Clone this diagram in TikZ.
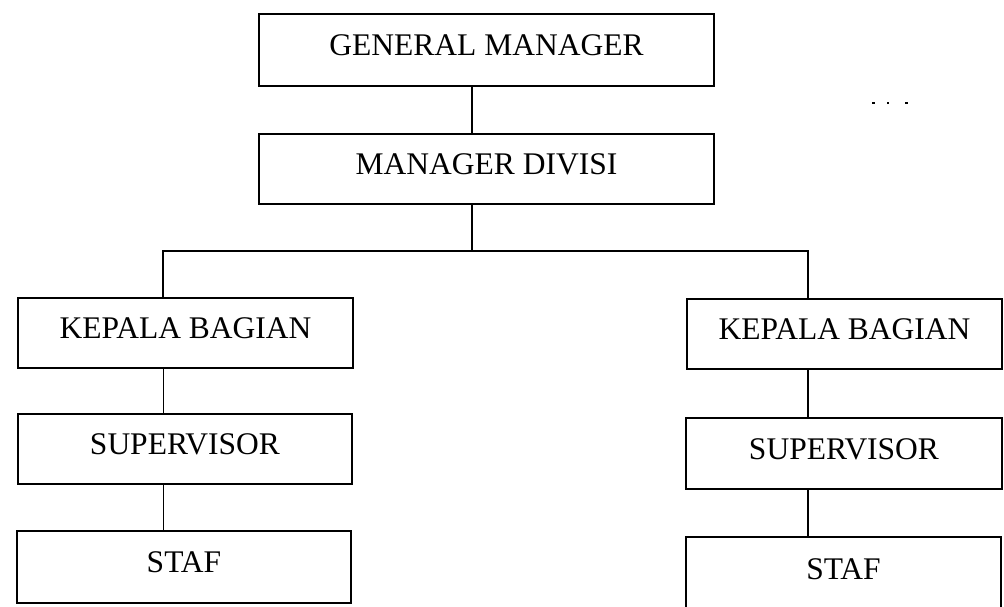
\documentclass[tikz,border=0pt]{standalone}
\usepackage{fontspec}
\setmainfont{Liberation Serif}
\begin{document}
\begin{tikzpicture}[x=1pt,y=-1pt,
  box/.style={draw,line width=1.5pt,rectangle,inner sep=0pt,
    font=\fontsize{31.5}{36}\selectfont,text height=21pt,text depth=10pt},
  link/.style={line width=1.5pt},
  thinlink/.style={line width=1pt}]
\useasboundingbox (0,0) rectangle (1004,606);
% boxes
\node[box,minimum width=455pt,minimum height=72pt] (gm) at (486.5,50) {GENERAL MANAGER};
\node[box,minimum width=455pt,minimum height=70pt] (md) at (486.5,169) {MANAGER DIVISI};
\node[box,minimum width=335pt,minimum height=70pt] (kbl) at (185.5,333) {KEPALA BAGIAN};
\node[box,minimum width=334pt,minimum height=70pt] (supl) at (185,449) {SUPERVISOR};
\node[box,minimum width=334pt,minimum height=72pt] (stafl) at (184,567) {STAF};
\node[box,minimum width=315pt,minimum height=70pt] (kbr) at (844.5,334) {KEPALA BAGIAN};
\node[box,minimum width=316pt,minimum height=71pt] (supr) at (844,453.5) {SUPERVISOR};
\node[box,minimum width=315pt,minimum height=74pt] (stafr) at (843.5,574) {STAF};
% connector guides
\coordinate (trunk) at (472,0);
\coordinate (bus) at (0,251);
\coordinate (lc) at (163,0);
\coordinate (rc) at (808,0);
% connectors
\draw[link] (gm.south -| trunk) -- (md.north -| trunk);
\draw[link] (md.south -| trunk) -- (trunk |- bus);
\draw[link] (kbl.north -| lc) -- (lc |- bus) -- (rc |- bus) -- (kbr.north -| rc);
\draw[thinlink] (kbl.south -| lc) -- (supl.north -| lc);
\draw[thinlink] (supl.south -| lc) -- (stafl.north -| lc);
\draw[link] (kbr.south -| rc) -- (supr.north -| rc);
\draw[link] (supr.south -| rc) -- (stafr.north -| rc);
% faint marks at top right
\fill (871.5,102) rectangle (874.5,104);
\fill (887,102) rectangle (889,104);
\fill (904.5,102) rectangle (907.5,104);
\end{tikzpicture}
\end{document}
